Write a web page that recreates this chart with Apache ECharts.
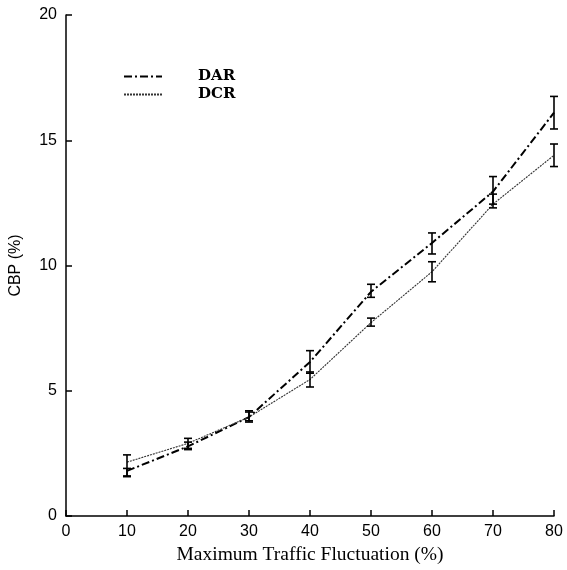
<!DOCTYPE html>
<html>
<head>
<meta charset="utf-8">
<script src="https://cdn.jsdelivr.net/npm/echarts@6/dist/echarts.min.js"></script>
<style>html,body{margin:0;padding:0;background:#fff}#c{width:567px;height:570px}</style>
</head>
<body>
<div id="c"></div>
<script>
var fluctuation = [10, 20, 30, 40, 50, 60, 70, 80];
var darCBP = [1.8, 2.78, 3.95, 6.15, 8.95, 10.9, 12.95, 16.1];
var darLow = [1.6, 2.65, 3.8, 5.7, 8.73, 10.46, 12.45, 15.45];
var darHigh = [1.9, 2.95, 4.15, 6.6, 9.25, 11.3, 13.55, 16.75];
var dcrCBP = [2.15, 2.9, 3.95, 5.45, 7.72, 9.75, 12.45, 14.4];
var dcrLow = [1.57, 2.7, 3.75, 5.15, 7.58, 9.35, 12.3, 13.95];
var dcrHigh = [2.44, 3.1, 4.2, 5.75, 7.9, 10.15, 12.85, 14.85];

function pairs(xs, ys) { return xs.map(function (x, i) { return [x, ys[i]]; }); }
function errData(xs, lo, hi) { return xs.map(function (x, i) { return [x, lo[i], hi[i]]; }); }

function renderErr(params, api) {
  var x = api.value(0);
  var p1 = api.coord([x, api.value(1)]);
  var p2 = api.coord([x, api.value(2)]);
  var w = 4;
  var st = { stroke: '#000', lineWidth: 1.6 };
  return {
    type: 'group',
    children: [
      { type: 'line', shape: { x1: p1[0], y1: p1[1], x2: p2[0], y2: p2[1] }, style: st },
      { type: 'line', shape: { x1: p1[0] - w, y1: p1[1], x2: p1[0] + w, y2: p1[1] }, style: st },
      { type: 'line', shape: { x1: p2[0] - w, y1: p2[1], x2: p2[0] + w, y2: p2[1] }, style: st }
    ]
  };
}

var chart = echarts.init(document.getElementById('c'), null, { renderer: 'canvas' });
chart.setOption({
  animation: false,
  backgroundColor: '#fff',
  grid: { left: 66, right: 13, top: 15, bottom: 54 },
  legend: {
    orient: 'vertical',
    left: 118,
    top: 64,
    itemWidth: 38,
    itemHeight: 12,
    itemGap: 3,
    data: ['DAR', 'DCR'],
    itemStyle: { color: 'rgba(0,0,0,0)', borderWidth: 0 },
    textStyle: { fontFamily: 'DejaVu Serif', fontWeight: 'bold', fontSize: 15, color: '#000', padding: [0, 0, 0, 31] }
  },
  xAxis: {
    type: 'value', min: 0, max: 80, interval: 10,
    name: 'Maximum Traffic Fluctuation (%)',
    nameLocation: 'middle', nameGap: 29,
    nameTextStyle: { fontFamily: 'Liberation Serif', fontSize: 19.5, color: '#000' },
    axisLine: { lineStyle: { color: '#000', width: 1.5 } },
    axisTick: { inside: true, length: 6, lineStyle: { color: '#000', width: 1.5 } },
    axisLabel: { fontFamily: 'Liberation Sans', fontSize: 16, color: '#000', margin: 8 },
    splitLine: { show: false }
  },
  yAxis: {
    type: 'value', min: 0, max: 20, interval: 5,
    name: 'CBP (%)',
    nameLocation: 'middle', nameGap: 42, nameRotate: 90,
    nameTextStyle: { fontFamily: 'Liberation Sans', fontSize: 16, color: '#000' },
    axisLine: { show: true, lineStyle: { color: '#000', width: 1.5 } },
    axisTick: { show: true, inside: true, length: 6, lineStyle: { color: '#000', width: 1.5 } },
    axisLabel: { fontFamily: 'Liberation Sans', fontSize: 16, color: '#000', margin: 9 },
    splitLine: { show: false }
  },
  series: [
    {
      name: 'DAR', type: 'line', data: pairs(fluctuation, darCBP),
      symbol: 'none', color: '#000',
      lineStyle: { color: '#000', width: 2, type: [8, 3, 2, 3] }
    },
    {
      name: 'DCR', type: 'line', data: pairs(fluctuation, dcrCBP),
      symbol: 'none', color: '#333',
      lineStyle: { color: '#333', width: 1.1, type: [2, 1] }
    },
    { name: 'DAR err', type: 'custom', renderItem: renderErr, data: errData(fluctuation, darLow, darHigh), z: 5 },
    { name: 'DCR err', type: 'custom', renderItem: renderErr, data: errData(fluctuation, dcrLow, dcrHigh), z: 5 }
  ]
});
</script>
</body>
</html>
